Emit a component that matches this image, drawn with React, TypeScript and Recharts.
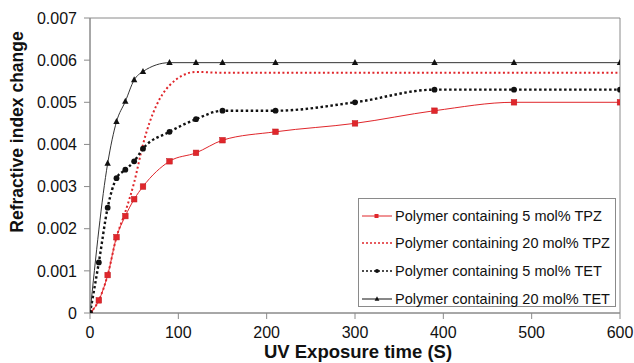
import React from 'react';
import { LineChart, Line, XAxis, YAxis, Legend, ReferenceArea, Label } from 'recharts';

// ---- data ----
const times = [0, 10, 20, 30, 40, 50, 60, 90, 120, 150, 210, 300, 390, 480, 600];
const timesTet20 = [0, 20, 30, 40, 50, 60, 90, 120, 150, 210, 300, 390, 480, 600];

const tpz5 = [0, 0.0003, 0.0009, 0.0018, 0.0023, 0.0027, 0.003, 0.0036, 0.0038, 0.0041, 0.0043, 0.0045, 0.0048, 0.005, 0.005];
const tpz20 = [0, 0.0003, 0.0009, 0.0018, 0.0024, 0.0031, 0.004, 0.0054, 0.00572, 0.0057, 0.0057, 0.0057, 0.0057, 0.0057, 0.0057];
const tet5 = [0, 0.0012, 0.0025, 0.0032, 0.0034, 0.0036, 0.0039, 0.0043, 0.0046, 0.0048, 0.0048, 0.005, 0.0053, 0.0053, 0.0053];
const tet20 = [0, 0.00355, 0.00454, 0.00502, 0.00553, 0.00573, 0.00594, 0.00594, 0.00594, 0.00594, 0.00594, 0.00594, 0.00594, 0.00594];

const seriesNames = [
  'Polymer containing 5 mol% TPZ',
  'Polymer containing 20 mol% TPZ',
  'Polymer containing 5 mol% TET',
  'Polymer containing 20 mol% TET',
];

const xTicks = [0, 100, 200, 300, 400, 500, 600];
const yTicks = [0, 0.001, 0.002, 0.003, 0.004, 0.005, 0.006, 0.007];

const toPoints = (xs: number[], ys: number[]) => xs.map((x, i) => ({ x, y: ys[i] }));

const RED = '#e0262b';
const BLACK = '#111111';
const AXIS = '#8a8a8a';
const FONT = '"Liberation Sans", Arial, Helvetica, sans-serif';

const SquareDot = (p: any) => {
  const { cx, cy, index } = p;
  if (cx == null || cy == null) return <g key={`sq-${index}`} />;
  return <rect key={`sq-${index}`} x={cx - 2.8} y={cy - 2.8} width={5.6} height={5.6} fill={RED} stroke="#c01a20" strokeWidth={0.5} />;
};
const CircleDot = (p: any) => {
  const { cx, cy, index } = p;
  if (cx == null || cy == null) return <g key={`ci-${index}`} />;
  return <circle key={`ci-${index}`} cx={cx} cy={cy} r={2.9} fill={BLACK} />;
};
const TriDot = (p: any) => {
  const { cx, cy, index } = p;
  if (cx == null || cy == null) return <g key={`tr-${index}`} />;
  return <path key={`tr-${index}`} d={`M${cx},${cy - 3.6}L${cx + 3.2},${cy + 2.4}L${cx - 3.2},${cy + 2.4}Z`} fill={BLACK} />;
};

const legendStyles: Record<string, { stroke: string; dash?: string; width: number; marker: string }> = {
  [seriesNames[0]]: { stroke: RED, width: 1, marker: 'square' },
  [seriesNames[1]]: { stroke: RED, dash: '2 2', width: 1.6, marker: 'none' },
  [seriesNames[2]]: { stroke: BLACK, dash: '2 2', width: 1.6, marker: 'circle' },
  [seriesNames[3]]: { stroke: BLACK, width: 1, marker: 'tri' },
};

const LegendBox = (props: any) => {
  const payload = props.payload || [];
  const ordered = seriesNames.map((n) => payload.find((e: any) => e.value === n)).filter(Boolean);
  return (
    <div
      style={{
        border: `1px solid ${AXIS}`,
        background: '#fff',
        width: 258,
        height: 109,
        boxSizing: 'border-box',
        paddingTop: 3,
        fontFamily: FONT,
        fontSize: 14.5,
        color: '#111',
      }}
    >
      {ordered.map((e: any) => {
        const s = legendStyles[e.value];
        return (
          <div key={e.value} style={{ display: 'flex', alignItems: 'center', height: 27.6, whiteSpace: 'nowrap' }}>
            <svg width={33} height={10} style={{ marginLeft: 2, marginRight: 1, flex: 'none' }}>
              <line x1={1} y1={5} x2={31} y2={5} stroke={s.stroke} strokeWidth={s.width} strokeDasharray={s.dash} />
              {s.marker === 'square' && <rect x={13.5} y={3} width={4} height={4} fill={RED} />}
              {s.marker === 'circle' && <circle cx={16} cy={5} r={2} fill={BLACK} />}
              {s.marker === 'tri' && <path d="M16,2.3L18.4,6.8L13.6,6.8Z" fill={BLACK} />}
            </svg>
            <span>{e.value}</span>
          </div>
        );
      })}
    </div>
  );
};

const yFmt = (v: number) => (v === 0 ? '0' : v.toFixed(3));

export default function App() {
  return (
    <div style={{ position: 'absolute', left: 0, top: 0, width: 634, height: 363, background: '#fff' }}>
      <LineChart width={634} height={363} margin={{ top: 18, right: 14, left: 0, bottom: 0 }}>
        <XAxis
          dataKey="x"
          type="number"
          domain={[0, 600]}
          ticks={xTicks}
          allowDataOverflow
          height={50}
          stroke={AXIS}
          tickSize={6}
          tickMargin={8}
          tick={{ fill: '#111', fontSize: 16, fontFamily: FONT }}
        >
          <Label
            content={() => (
              <text x={358} y={358} textAnchor="middle" fontFamily={FONT} fontWeight="bold" fontSize={18.5} fill="#111">
                UV Exposure time (S)
              </text>
            )}
          />
        </XAxis>
        <YAxis
          type="number"
          domain={[0, 0.007]}
          ticks={yTicks}
          allowDataOverflow
          width={90}
          stroke={AXIS}
          tickSize={6}
          tickMargin={7}
          tickFormatter={yFmt}
          tick={{ fill: '#111', fontSize: 16, fontFamily: FONT }}
        >
          <Label
            content={() => (
              <text
                x={0}
                y={0}
                transform="translate(23,132) rotate(-90)"
                textAnchor="middle"
                fontFamily={FONT}
                fontWeight="bold"
                fontSize={17.5}
                fill="#111"
              >
                Refractive index change
              </text>
            )}
          />
        </YAxis>
        <ReferenceArea x1={0} x2={600} y1={0} y2={0.007} fill="none" stroke={AXIS} strokeWidth={1} ifOverflow="visible" />
        <Line
          data={toPoints(times, tpz5)}
          dataKey="y"
          name={seriesNames[0]}
          type="monotone"
          stroke={RED}
          strokeWidth={1}
          dot={SquareDot}
          isAnimationActive={false}
        />
        <Line
          data={toPoints(times, tpz20)}
          dataKey="y"
          name={seriesNames[1]}
          type="monotone"
          stroke={RED}
          strokeWidth={2}
          strokeDasharray="2 2.5"
          dot={false}
          isAnimationActive={false}
        />
        <Line
          data={toPoints(times, tet5)}
          dataKey="y"
          name={seriesNames[2]}
          type="monotone"
          stroke={BLACK}
          strokeWidth={2.4}
          strokeDasharray="2.5 2.5"
          dot={CircleDot}
          isAnimationActive={false}
        />
        <Line
          data={toPoints(timesTet20, tet20)}
          dataKey="y"
          name={seriesNames[3]}
          type="monotone"
          stroke="#333"
          strokeWidth={1}
          dot={TriDot}
          isAnimationActive={false}
        />
        <Legend
          layout="vertical"
          align="center"
          verticalAlign="middle"
          content={LegendBox}
          wrapperStyle={{ left: 358, top: 198, width: 259, height: 110 }}
        />
      </LineChart>
    </div>
  );
}
